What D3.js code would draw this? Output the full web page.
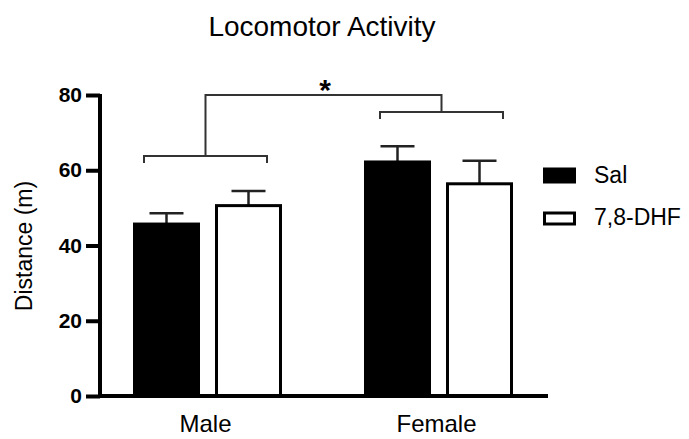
<!DOCTYPE html>
<html><head><meta charset="utf-8">
<script src="https://cdn.jsdelivr.net/npm/d3@7"></script>
<style>body{margin:0;background:#fff}svg{display:block}text{font-family:"Liberation Sans",Arial,sans-serif;fill:#000}</style>
</head><body><svg id="c" width="689" height="439"></svg>
<script>
const groups = ["Male", "Female"];
const series = ["Sal", "7,8-DHF"];
const salMeans = [45.7, 62.2];
const salSEM = [2.9, 4.2];
const dhfMeans = [50.6, 56.4];
const dhfSEM = [3.9, 6.1];
const yTicks = [0, 20, 40, 60, 80];
const title = "Locomotor Activity";
const yLabel = "Distance (m)";

const svg = d3.select("#c");
const y = d3.scaleLinear().domain([0, 80]).range([396, 95]);
const x0 = d3.scaleBand().domain(groups).range([92, 554]).paddingInner(0).paddingOuter(0);
const x1 = d3.scaleBand().domain(series).range([41, 190]).paddingInner(0.183).paddingOuter(0);

const data = groups.map((g, i) => [
  {g, s: series[0], v: salMeans[i], e: salSEM[i]},
  {g, s: series[1], v: dhfMeans[i], e: dhfSEM[i]}
]).flat();

// title
svg.append("text").attr("x", 322).attr("y", 36).attr("text-anchor", "middle")
  .style("font-size", "28px").text(title);

// error bars (drawn before bars)
const eb = svg.append("g").attr("stroke", "#222").attr("stroke-width", 2.5);
data.forEach(d => {
  const cx = x0(d.g) + x1(d.s) + x1.bandwidth() / 2;
  eb.append("line").attr("x1", cx).attr("x2", cx).attr("y1", y(d.v)).attr("y2", y(d.v + d.e));
  eb.append("line").attr("x1", cx - 17).attr("x2", cx + 17).attr("y1", y(d.v + d.e)).attr("y2", y(d.v + d.e));
});

// bars
svg.append("g").selectAll("rect").data(data).join("rect")
  .attr("x", d => x0(d.g) + x1(d.s) + 1.5)
  .attr("y", d => y(d.v))
  .attr("width", x1.bandwidth() - 3)
  .attr("height", d => y(0) - y(d.v))
  .attr("fill", d => d.s === series[0] ? "#000" : "#fff")
  .attr("stroke", "#000").attr("stroke-width", 3);

// y axis
const yAxis = svg.append("g").attr("transform", "translate(100,0)")
  .call(d3.axisLeft(y).tickValues(yTicks).tickSize(14).tickPadding(4));
yAxis.select(".domain").attr("stroke-width", 4).attr("d", `M0,${y(80)-1}V${y(0)+2}`);
yAxis.selectAll(".tick line").attr("stroke-width", 4);
yAxis.selectAll(".tick text").style("font-size", "21px").style("font-weight", "bold")
  .attr("font-family", "Liberation Sans, Arial, sans-serif").attr("fill", "#000");

// x axis
const xAxis = svg.append("g").attr("transform", `translate(0,${y(0)})`)
  .call(d3.axisBottom(x0).tickSize(0).tickPadding(19));
xAxis.select(".domain").attr("stroke-width", 4).attr("d", "M98,0H548");
xAxis.selectAll(".tick text").style("font-size", "24px")
  .attr("font-family", "Liberation Sans, Arial, sans-serif").attr("fill", "#000").attr("dy", "0.71em")
  .attr("dx", -2);

// y label
svg.append("text").attr("transform", `translate(32,246) rotate(-90)`).attr("text-anchor", "middle")
  .style("font-size", "23px").text(yLabel);

// significance brackets
const br = svg.append("g").attr("fill", "none").attr("stroke", "#333").attr("stroke-width", 2);
function bracketFor(g, yv, padL, padR) {
  const a = x0(g) + x1(series[0]) + padL, b = x0(g) + x1(series[1]) + x1.bandwidth() - padR;
  const by = y(yv);
  br.append("path").attr("d", `M${a},${by + 7}V${by}H${b}V${by + 7}`);
  return {mid: (a + b) / 2, by};
}
const m = bracketFor("Male", 63.8, 11, 15);
const f = bracketFor("Female", 75.5, 16, 10);
const topY = y(80);
br.append("path").attr("d", `M${m.mid},${m.by}V${topY}H${f.mid}V${f.by}`);
svg.append("text").attr("x", 325).attr("y", 100).attr("text-anchor", "middle")
  .style("font-size", "30px").style("font-weight", "bold").text("*");

// legend
const lg = svg.append("g");
series.forEach((s, i) => {
  const ly = 169 + i * 42;
  lg.append("rect").attr("x", 544.5).attr("y", ly + (i ? 2 : 0)).attr("width", 30).attr("height", i ? 11 : 13)
    .attr("fill", i ? "#fff" : "#000").attr("stroke", "#000").attr("stroke-width", 3);
  lg.append("text").attr("x", 594).attr("y", ly + 14).style("font-size", "23px").text(s);
});
</script></body></html>
